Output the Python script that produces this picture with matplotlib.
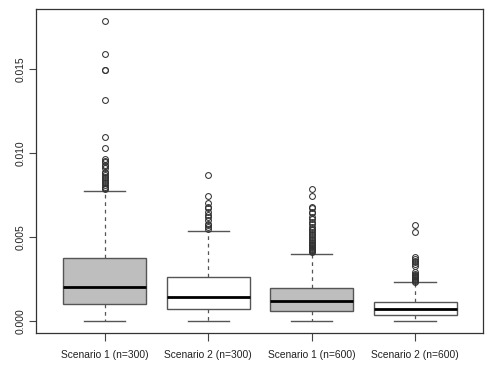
import matplotlib
matplotlib.use("Agg")
import matplotlib.pyplot as plt
from matplotlib.ticker import FormatStrFormatter

plt.rcParams['font.family'] = ['Liberation Sans', 'DejaVu Sans']

labels = ["Scenario 1 (n=300)", "Scenario 2 (n=300)", "Scenario 1 (n=600)", "Scenario 2 (n=600)"]
fills = ["#bebebe", "#ffffff", "#bebebe", "#ffffff"]
q1 = [0.00103, 0.00070, 0.00061, 0.00036]
med = [0.00202, 0.00145, 0.00117, 0.00071]
q3 = [0.00373, 0.00260, 0.00198, 0.00115]
whislo = [0.0, 0.00002, 0.00002, 0.0]
whishi = [0.00774, 0.00534, 0.00401, 0.00230]
fliers1 = [0.01786, 0.01589, 0.01496, 0.01496, 0.01315, 0.01093, 0.01030, 0.00964,
           0.00955, 0.00945, 0.00930, 0.00920, 0.00910, 0.00890, 0.00880, 0.00870,
           0.00860, 0.00850, 0.00840, 0.00830, 0.00820, 0.00810, 0.00800, 0.00790, 0.00785]
fliers2 = [0.00869, 0.00742, 0.00700, 0.00680, 0.00670, 0.00650, 0.00630, 0.00620,
           0.00600, 0.00580, 0.00570, 0.00560, 0.00550]
fliers3 = [0.00784, 0.00744, 0.00680, 0.00670, 0.00650, 0.00640, 0.00620, 0.00610,
           0.00590, 0.00580, 0.00560, 0.00550, 0.00540, 0.00530, 0.00520, 0.00510,
           0.00500, 0.00490, 0.00480, 0.00470, 0.00465, 0.00460, 0.00455, 0.00450,
           0.00445, 0.00440, 0.00435, 0.00430, 0.00425, 0.00420, 0.00415, 0.00410]
fliers4 = [0.00570, 0.00530, 0.00380, 0.00370, 0.00360, 0.00350, 0.00340, 0.00330,
           0.00290, 0.00280, 0.00275, 0.00270, 0.00265, 0.00260, 0.00255, 0.00250,
           0.00245, 0.00240, 0.00235]
fliers = [fliers1, fliers2, fliers3, fliers4]
yticks = [0.0, 0.005, 0.010, 0.015]

stats = []
for i in range(4):
    stats.append(dict(label=labels[i], q1=q1[i], med=med[i], q3=q3[i],
                      whislo=whislo[i], whishi=whishi[i], fliers=fliers[i]))

fig = plt.figure(figsize=(4.9, 3.65), dpi=100)
ax = fig.add_axes([0.0743, 0.0877, 0.9124, 0.8876])

edge = "#555555"
bp = ax.bxp(stats, positions=[1, 2, 3, 4], widths=0.8, patch_artist=True,
            boxprops=dict(edgecolor=edge, linewidth=1.0),
            whiskerprops=dict(color=edge, linewidth=0.9, linestyle=(0, (3, 3))),
            capprops=dict(color=edge, linewidth=1.0),
            medianprops=dict(color="black", linewidth=2.0, solid_capstyle="butt"),
            flierprops=dict(marker="o", markerfacecolor="none", markeredgecolor="#333333",
                            markersize=4.2, markeredgewidth=0.75, linestyle="none"),
            capwidths=0.4)
for patch, c in zip(bp['boxes'], fills):
    patch.set_facecolor(c)

ax.set_xlim(0.34, 4.66)
ymax = max(fliers1)
ax.set_ylim(-0.04 * ymax, ymax * 1.04)
ax.set_yticks(yticks)
ax.yaxis.set_major_formatter(FormatStrFormatter('%.3f'))
ax.tick_params(axis='y', labelrotation=90, labelsize=7.4, length=5, width=0.8,
               color="#444444", labelcolor="#222222", pad=3)
ax.tick_params(axis='x', labelsize=7.4, length=6, width=0.8, color="#444444",
               labelcolor="#222222", pad=6)
for lab in ax.get_yticklabels():
    lab.set_verticalalignment('center')
for sp in ax.spines.values():
    sp.set_color("#333333")
    sp.set_linewidth(0.9)

fig.savefig("out.png", dpi=100)
